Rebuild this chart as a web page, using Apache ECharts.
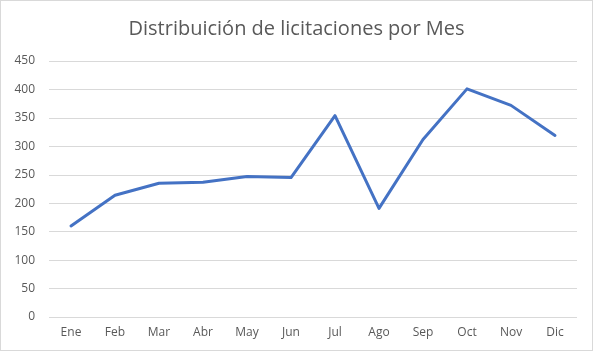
<!DOCTYPE html>
<html>
<head>
<meta charset="utf-8">
<script src="https://cdn.jsdelivr.net/npm/echarts@6/dist/echarts.min.js"></script>
<style>
  html, body { margin: 0; padding: 0; background: #fff; }
  #main { width: 591px; height: 349px; border: 1px solid #d9d9d9; }
</style>
</head>
<body>
<div id="main"></div>
<script>
var meses = ['Ene', 'Feb', 'Mar', 'Abr', 'May', 'Jun', 'Jul', 'Ago', 'Sep', 'Oct', 'Nov', 'Dic'];
var licitaciones = [160, 214, 235, 237, 247, 245, 354, 191, 312, 401, 372, 319];
var titulo = 'Distribuición de licitaciones por Mes';

var myChart = echarts.init(document.getElementById('main'));

var option = {
    animation: false,
    title: {
        text: titulo,
        left: 'center',
        top: 13,
        textStyle: {
            fontFamily: 'Open Sans',
            fontSize: 20,
            fontWeight: 'normal',
            color: '#595959'
        }
    },
    grid: {
        left: 48,
        right: 15,
        top: 60,
        bottom: 33
    },
    xAxis: {
        type: 'category',
        data: meses,
        boundaryGap: true,
        axisLine: { show: false },
        axisTick: { show: false },
        axisLabel: {
            color: '#595959',
            fontFamily: 'Open Sans',
            fontSize: 12,
            margin: 10
        }
    },
    yAxis: {
        type: 'value',
        min: 0,
        max: 450,
        interval: 50,
        axisLine: { show: false },
        axisTick: { show: false },
        axisLabel: {
            color: '#595959',
            fontFamily: 'Open Sans',
            fontSize: 12,
            margin: 14
        },
        splitLine: { lineStyle: { color: '#d9d9d9', width: 1 } }
    },
    series: [{
        type: 'line',
        data: licitaciones,
        symbol: 'none',
        lineStyle: { color: '#4472C4', width: 3, cap: 'round', join: 'round' }
    }]
};

myChart.setOption(option);
</script>
</body>
</html>
